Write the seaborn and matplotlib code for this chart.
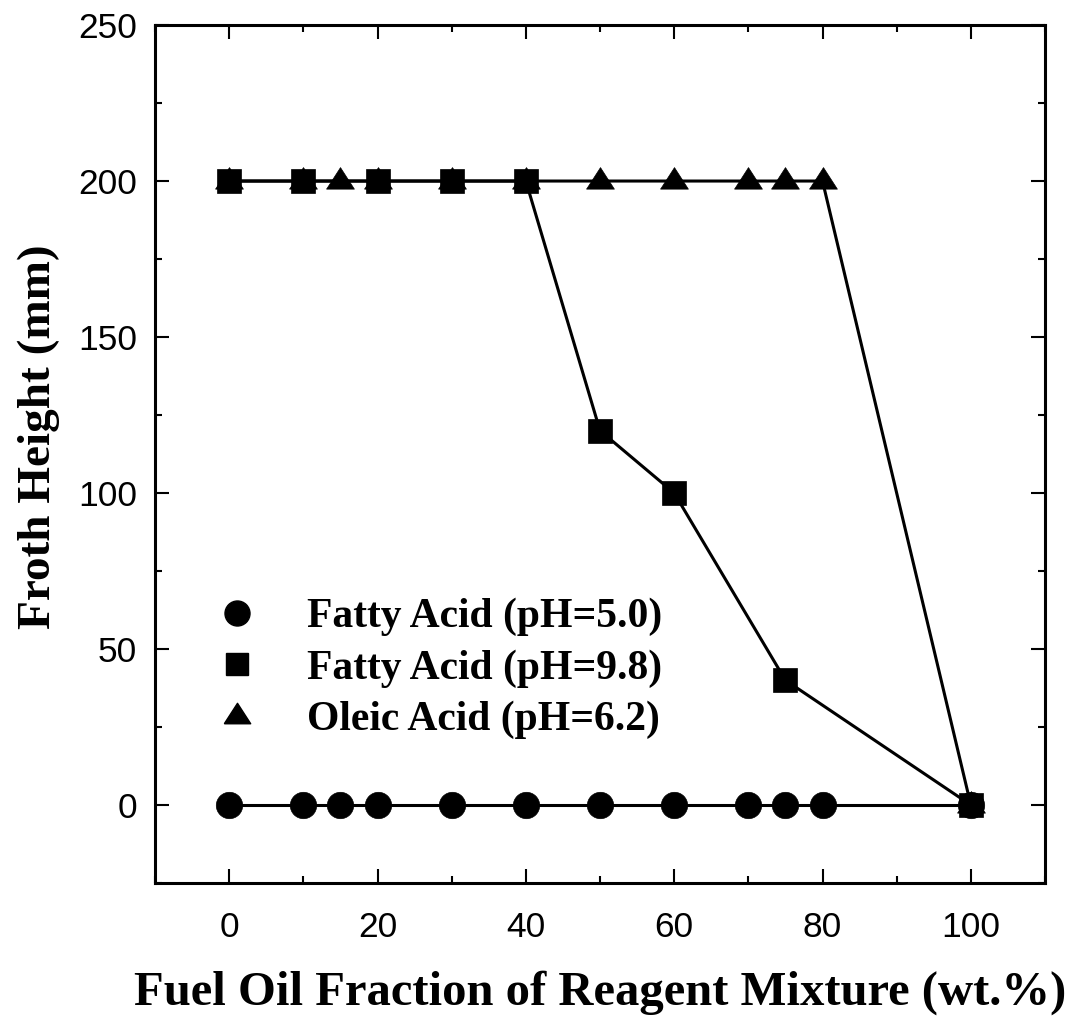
import numpy as np
import pandas as pd
import matplotlib
matplotlib.use("Agg")
import matplotlib.pyplot as plt
from matplotlib.lines import Line2D
from matplotlib.ticker import MultipleLocator
import seaborn as sns

# Froth height vs. fuel oil fraction for three collector systems
fa50_x = [0, 10, 15, 20, 30, 40, 50, 60, 70, 75, 80, 100]
fa50_y = [0, 0, 0, 0, 0, 0, 0, 0, 0, 0, 0, 0]

oa62_x = [0, 10, 15, 20, 30, 40, 50, 60, 70, 75, 80, 100]
oa62_y = [200, 200, 200, 200, 200, 200, 200, 200, 200, 200, 200, 0]

fa98_x = [0, 10, 20, 30, 40, 50, 60, 75, 100]
fa98_y = [200, 200, 200, 200, 200, 120, 100, 40, 0]

labels = ["Fatty Acid (pH=5.0)", "Fatty Acid (pH=9.8)", "Oleic Acid (pH=6.2)"]

sns.set_theme(style="ticks")
plt.rcParams["font.family"] = ["Liberation Sans", "DejaVu Sans"]
for key in ("text.color", "axes.labelcolor", "xtick.color", "ytick.color",
            "axes.edgecolor"):
    plt.rcParams[key] = "black"

# slightly flattened triangle marker, sitting a little above its point
tri = [(-1, -0.55), (1, -0.55), (0, 1.0), (-1, -0.55)]

fig = plt.figure(figsize=(10.81, 10.22), dpi=100)
ax = fig.add_axes([0.1434, 0.136, 0.8233, 0.8395])

lw = 2.2
series = [
    (fa50_x, fa50_y, "o", 19),
    (oa62_x, oa62_y, tri, 20),
    (fa98_x, fa98_y, "s", 17),
]
for xs, ys, mk, ms in series:
    df = pd.DataFrame({"x": xs, "y": ys})
    sns.lineplot(data=df, x="x", y="y", ax=ax, color="black", linewidth=lw,
                 marker=mk, markersize=ms, markeredgecolor="black",
                 markerfacecolor="black", markeredgewidth=0.5)

ax.set_xlim(-10, 110)
ax.set_ylim(-25, 250)
ax.xaxis.set_major_locator(MultipleLocator(20))
ax.xaxis.set_minor_locator(MultipleLocator(10))
ax.yaxis.set_major_locator(MultipleLocator(50))
ax.yaxis.set_minor_locator(MultipleLocator(25))
ax.tick_params(which="both", direction="in", top=True, right=True,
               width=1.5, colors="black", labelsize=25.5, pad=13)
ax.tick_params(axis="x", which="both", pad=20)
ax.tick_params(which="major", length=10)
ax.tick_params(which="minor", length=5)
for s in ax.spines.values():
    s.set_linewidth(2.2)
    s.set_color("black")

serif_bold = dict(family=["Liberation Serif", "DejaVu Serif"], weight="bold")
ax.set_xlabel("Fuel Oil Fraction of Reagent Mixture (wt.%)", fontsize=35,
              labelpad=19, **serif_bold)
ax.set_ylabel("Froth Height (mm)", fontsize=34, **serif_bold)
ax.yaxis.set_label_coords(-0.107, 0.52)

handles = [
    Line2D([], [], linestyle="none", marker="o", markersize=18, color="black"),
    Line2D([], [], linestyle="none", marker="s", markersize=16, color="black"),
    Line2D([], [], linestyle="none", marker=tri, markersize=19, color="black"),
]
ax.legend(handles, labels, loc="center left", bbox_to_anchor=(0.05, 0.25),
          borderaxespad=0, frameon=False, handlelength=1.0, handletextpad=1.17,
          labelspacing=0.31,
          prop=dict(family=["Liberation Serif", "DejaVu Serif"], weight="bold", size=30))

fig.savefig("out.png", dpi=100, facecolor="white")
